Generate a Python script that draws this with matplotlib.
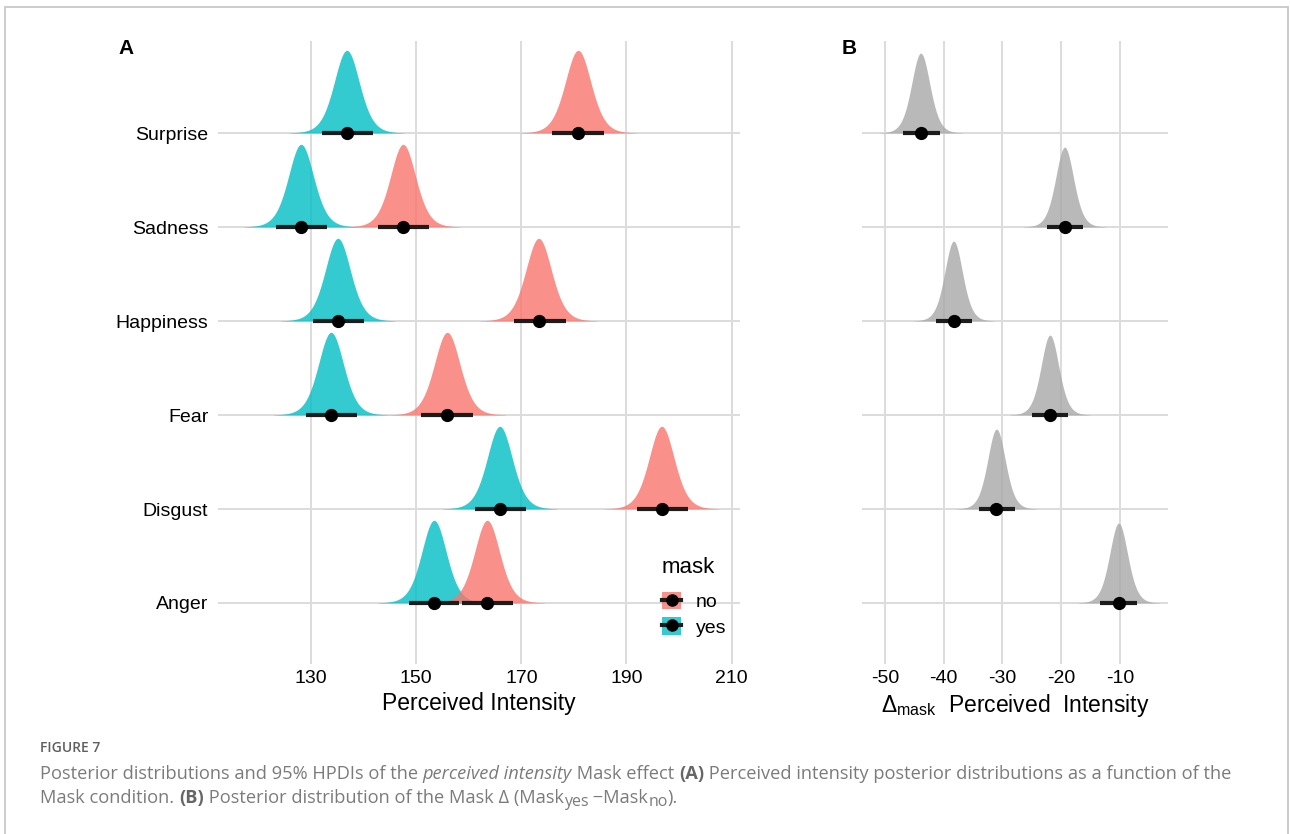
import numpy as np
import matplotlib
matplotlib.use("Agg")
import matplotlib.pyplot as plt
from matplotlib.patches import Patch, Rectangle
from matplotlib.lines import Line2D
from matplotlib.legend_handler import HandlerTuple
from matplotlib.transforms import IdentityTransform

# ---------------- data ----------------
emotions = ["Anger", "Disgust", "Fear", "Happiness", "Sadness", "Surprise"]

# Panel A: posterior mean and 95% HPDI of perceived intensity
yes_mean = [153.4, 165.9, 133.8, 135.1, 128.1, 136.8]
yes_lo   = [148.6, 161.2, 129.0, 130.4, 123.3, 132.1]
yes_hi   = [158.1, 170.9, 138.7, 140.1, 133.0, 141.8]
no_mean  = [163.5, 196.7, 155.9, 173.3, 147.5, 180.8]
no_lo    = [158.7, 192.0, 150.9, 168.6, 142.7, 175.8]
no_hi    = [168.4, 201.7, 160.8, 178.5, 152.4, 185.7]

# Panel B: posterior of the mask difference (yes - no)
delta_mean = [-10.2, -31.0, -21.9, -38.3, -19.4, -43.9]
delta_lo   = [-13.3, -34.0, -25.0, -41.3, -22.4, -46.9]
delta_hi   = [-7.1, -27.9, -18.9, -35.2, -16.2, -40.6]

xticks_a = [130, 150, 170, 190, 210]
xticks_b = [-50, -40, -30, -20, -10]
legend_labels = ["no", "yes"]

# ---------------- style ----------------
plt.rcParams["font.family"] = ["Liberation Sans", "DejaVu Sans"]
plt.rcParams["axes.unicode_minus"] = False
plt.rcParams["mathtext.fontset"] = "custom"
plt.rcParams["mathtext.rm"] = "Liberation Sans"
plt.rcParams["mathtext.it"] = "Liberation Sans:italic"
plt.rcParams["mathtext.bf"] = "Liberation Sans:bold"

C_NO = "#F8766D"
C_YES = "#00BFC4"
C_GREY = "#A8A8A8"
ALPHA = 0.8
GRID = "#DCDCDC"
DARK = "#1c1c1c"

W, H = 1290, 834
fig = plt.figure(figsize=(W / 100, H / 100), dpi=100)
fig.patch.set_facecolor("white")


def fr(x0, y0, x1, y1):
    return [x0 / W, 1 - y1 / H, (x1 - x0) / W, (y1 - y0) / H]


axA = fig.add_axes(fr(218, 41, 740, 664))
axB = fig.add_axes(fr(862, 41, 1168, 664))

ypos = np.arange(1, len(emotions) + 1)
ylim = (0.351, 6.979)
NU = 9.0     # shape of the drawn posterior density (slightly heavy tailed)
SPAN = 4.4   # half-width of the drawn density, in sd units


def ridge(ax, k, mu, lo, hi, color, alpha, height, z):
    sd = (hi - lo) / (2 * 1.96)
    xs = np.linspace(mu - SPAN * sd, mu + SPAN * sd, 500)
    u = (xs - mu) / sd
    dens = (1 + u ** 2 / NU) ** (-(NU + 1) / 2)
    ax.fill_between(xs, k, k + height * dens, color=color, alpha=alpha,
                    lw=0, zorder=z)


def interval(ax, k, mu, lo, hi):
    ax.plot([lo, hi], [k, k], color=DARK, lw=3.0, solid_capstyle="butt",
            zorder=10)
    ax.plot([mu], [k], "o", color="black", ms=8.5, zorder=11)


def style_axes(ax, xticks, xlim):
    ax.set_xlim(*xlim)
    ax.set_ylim(*ylim)
    ax.set_xticks(xticks)
    ax.set_yticks(ypos)
    ax.grid(True, color=GRID, lw=1.4)
    ax.set_axisbelow(True)
    for s in ax.spines.values():
        s.set_visible(False)
    ax.tick_params(length=0, labelsize=14, colors="black", pad=4)


# Panel A
for i, k in enumerate(ypos[::-1]):
    j = len(ypos) - 1 - i
    ridge(axA, k, yes_mean[j], yes_lo[j], yes_hi[j], C_YES, ALPHA, 0.88, 2)
    ridge(axA, k, no_mean[j], no_lo[j], no_hi[j], C_NO, ALPHA, 0.88, 3)
for j, k in enumerate(ypos):
    interval(axA, k, yes_mean[j], yes_lo[j], yes_hi[j])
    interval(axA, k, no_mean[j], no_lo[j], no_hi[j])

style_axes(axA, xticks_a, (112.3, 211.6))
axA.set_yticklabels(emotions)
axA.tick_params(axis="y", pad=7)
axA.set_xlabel("Perceived Intensity", fontsize=16.5, labelpad=4)

handles = [
    (Patch(facecolor=C_NO, alpha=ALPHA, lw=0),
     Line2D([], [], color=DARK, lw=3, marker="o", ms=8, mfc="black", mec="black")),
    (Patch(facecolor=C_YES, alpha=ALPHA, lw=0),
     Line2D([], [], color=DARK, lw=3, marker="o", ms=8, mfc="black", mec="black")),
]
leg = axA.legend(handles, legend_labels, title="mask",
                 handler_map={tuple: HandlerTuple(ndivide=1, pad=0)},
                 loc="upper left", bbox_to_anchor=(662 / W, 1 - 557 / H),
                 bbox_transform=fig.transFigure, frameon=False,
                 fontsize=14, title_fontsize=16, handlelength=1.0,
                 handleheight=1.0, handletextpad=0.75, labelspacing=0.32,
                 borderpad=0, borderaxespad=0, alignment="left")
leg._legend_box.sep = 10

# Panel B
for j, k in enumerate(ypos):
    ridge(axB, k, delta_mean[j], delta_lo[j], delta_hi[j], C_GREY, 0.8, 0.85, 2)
    interval(axB, k, delta_mean[j], delta_lo[j], delta_hi[j])

style_axes(axB, xticks_b, (-53.9, -1.8))
axB.set_yticklabels([])
axB.set_xlabel(r"$\Delta_{\mathrm{mask}}$  Perceived  Intensity", fontsize=16.5,
               labelpad=4)

# panel letters
fig.text(118 / W, 1 - 48 / H, "A", fontsize=15, fontweight="bold", va="center")
fig.text(842 / W, 1 - 48 / H, "B", fontsize=15, fontweight="bold", va="center")

# outer frame
fig.add_artist(Rectangle((5 / W, -0.05), (1288 - 5) / W, (H - 7) / H + 0.05,
                         transform=fig.transFigure, fill=False,
                         ec="#c8c8c8", lw=1.3))

# ---------------- caption ----------------
renderer = fig.canvas.get_renderer()
CAP = ["Open Sans", "DejaVu Sans"]
cap_col = "#7b7b7b"
SUB = 0.88


def twidth(s, kw):
    t = fig.text(0, 0, s, transform=IdentityTransform(), **kw)
    w = t.get_window_extent(renderer).width
    t.remove()
    return w


def rwidth(s, kw):
    return twidth("x" + s + "x", kw) - twidth("xx", kw)


def runs_kw(size, kw):
    d = dict(fontfamily=CAP, fontsize=size, color=cap_col)
    d.update(kw)
    return d


line1 = [("Posterior distributions and 95% HPDIs of the ", {}),
         ("perceived intensity", {"style": "italic"}),
         (" Mask effect ", {}),
         ("(A)", {"weight": "bold", "color": "#666666"}),
         (" Perceived intensity posterior distributions as a function of the", {})]
line2 = [("Mask condition. ", {}),
         ("(B)", {"weight": "bold", "color": "#666666"}),
         (" Posterior distribution of the Mask \u0394 (Mask", {}),
         ("yes", {"sub": True}),
         (" \u2212Mask", {}),
         ("no", {"sub": True}),
         (").", {})]


def prep(runs, base):
    out = []
    for s, kw in runs:
        kw = dict(kw)
        sub = kw.pop("sub", False)
        size = base * SUB if sub else base
        out.append((s, runs_kw(size, {**kw, "fontsize": size}), sub))
    return out


def line_width(runs, base):
    return sum(rwidth(s, d) for s, d, _ in prep(runs, base))


base0 = 11.0
base = base0 * (1233 - 40) / line_width(line1, base0)


def draw_runs(runs, x, yb):
    for s, d, sub in prep(runs, base):
        y = yb - (3 if sub else 0)
        fig.text(x, y, s, transform=IdentityTransform(), va="baseline",
                 ha="left", **d)
        x += rwidth(s, d)


draw_runs(line1, 40, H - 779)
draw_runs(line2, 40, H - 803)
fig.text(40, H - 752, "FIGURE 7", transform=IdentityTransform(), va="baseline",
         ha="left", fontfamily=CAP, fontsize=10, fontweight="semibold",
         color="#5f5f5f")

fig.savefig("out.png", dpi=100, facecolor="white")
